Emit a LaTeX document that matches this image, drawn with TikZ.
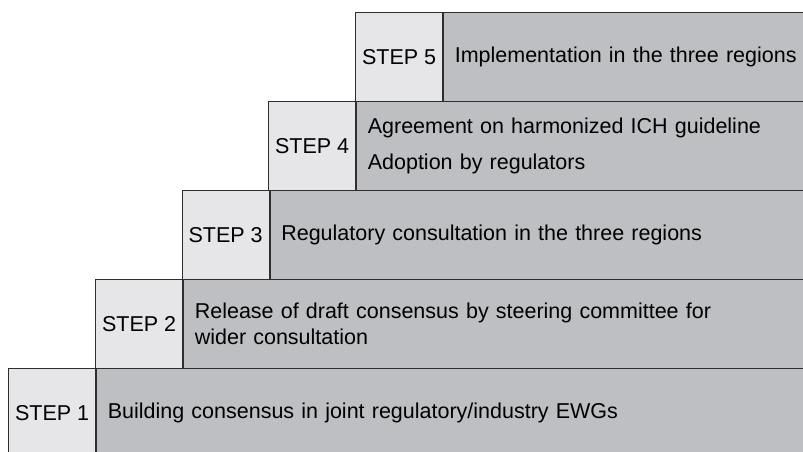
\documentclass[tikz,border=0pt]{standalone}
\usepackage{fontspec}
\setmainfont{Liberation Sans}
\definecolor{steplight}{HTML}{E6E6E8}
\definecolor{stepdark}{HTML}{BEBFC2}
\definecolor{stepline}{HTML}{2E2E2E}
\tikzset{
  stepbox/.style={draw=stepline,fill=steplight,anchor=north west,minimum width=87pt,minimum height=89pt,inner sep=0pt},
  stagebox/.style={draw=stepline,fill=stepdark,anchor=north west,minimum height=89pt,inner xsep=11pt,inner ysep=0pt,align=left},
}
\begin{document}
\begin{tikzpicture}[x=1pt,y=-1pt,line width=1.2pt,font=\fontsize{21.5}{25.7}\selectfont]
\useasboundingbox (0,0) rectangle (803,451);
\clip (0,0) rectangle (803,451);
\foreach \n/\x/\y in {1/8/368,2/95/279,3/181.5/190,4/268/100.7,5/355/12}
  \node[stepbox] (s\n) at (\x,\y) {STEP \n};
\node[stagebox,text width=703pt] (t1) at (s1.north east) {Building consensus in joint regulatory/industry EWGs};
\node[stagebox,text width=616.5pt] (t2) at (s2.north east) {Release of draft consensus by steering committee for\\wider consultation};
\node[stagebox,text width=530pt] (t3) at (s3.north east) {Regulatory consultation in the three regions};
\node[stagebox,text width=443pt] (t4) at (s4.north east) {Agreement on harmonized ICH guideline\\[11pt]Adoption by regulators};
\node[stagebox,text width=355.5pt] (t5) at (s5.north east) {Implementation in the three regions};
\end{tikzpicture}
\end{document}
